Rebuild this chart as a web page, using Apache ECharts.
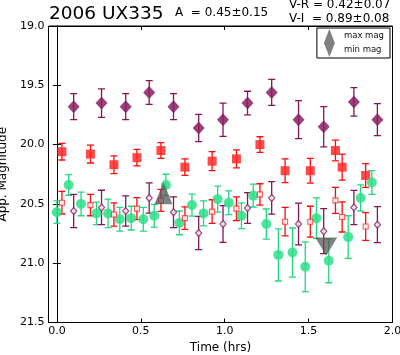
<!DOCTYPE html>
<html>
<head>
<meta charset="utf-8">
<script src="https://cdn.jsdelivr.net/npm/echarts@6/dist/echarts.min.js"></script>
<style>html,body{margin:0;padding:0;background:#fff}#c{width:400px;height:355px}</style>
</head>
<body>
<div id="c"></div>
<script>
// ---- data ----
var xTicks = [0.0, 0.5, 1.0, 1.5, 2.0];
var yTicks = [19.0, 19.5, 20.0, 20.5, 21.0, 21.5];

var vTimes = [0.10, 0.266, 0.41, 0.55, 0.695, 0.845, 0.99, 1.136, 1.28, 1.44, 1.59, 1.77, 1.91];
var vMags  = [19.68, 19.65, 19.68, 19.56, 19.68, 19.86, 19.79, 19.65, 19.56, 19.79, 19.85, 19.64, 19.79];
var vErrs  = [0.11, 0.12, 0.11, 0.10, 0.11, 0.115, 0.14, 0.10, 0.11, 0.16, 0.17, 0.12, 0.135];

var viMags = [20.56, 20.53, 20.56, 20.45, 20.57, 20.745, 20.67, 20.535, 20.45, 20.67, 20.73, 20.53, 20.675];
var viErrs = [0.14, 0.145, 0.128, 0.127, 0.13, 0.14, 0.155, 0.13, 0.137, 0.176, 0.19, 0.144, 0.152];

var rTimes = [0.03, 0.20, 0.34, 0.477, 0.62, 0.763, 0.925, 1.07, 1.21, 1.36, 1.51, 1.66, 1.70, 1.84];
var rMags  = [20.06, 20.08, 20.17, 20.11, 20.05, 20.19, 20.14, 20.12, 20.00, 20.22, 20.22, 20.05, 20.19, 20.26];
var rErrs  = [0.07, 0.075, 0.075, 0.07, 0.066, 0.07, 0.08, 0.076, 0.066, 0.10, 0.104, 0.087, 0.11, 0.10];

var rvMags = [20.49, 20.51, 20.59, 20.54, 20.47, 20.62, 20.565, 20.54, 20.42, 20.65, 20.65, 20.47, 20.61, 20.69];
var rvErrs = [0.095, 0.09, 0.098, 0.093, 0.093, 0.095, 0.10, 0.10, 0.09, 0.12, 0.13, 0.11, 0.127, 0.117];

var iTimes = [0.0, 0.07, 0.144, 0.236, 0.305, 0.375, 0.443, 0.515, 0.58, 0.65, 0.73, 0.805, 0.874, 0.958, 1.024, 1.10, 1.17, 1.248, 1.32, 1.404, 1.48, 1.547, 1.62, 1.736, 1.81, 1.877];
var iMags  = [20.57, 20.34, 20.50, 20.58, 20.58, 20.63, 20.62, 20.63, 20.60, 20.34, 20.66, 20.51, 20.58, 20.46, 20.49, 20.60, 20.43, 20.67, 20.93, 20.91, 21.03, 20.62, 20.98, 20.78, 20.45, 20.32];
var iErrs  = [0.095, 0.087, 0.10, 0.095, 0.12, 0.10, 0.10, 0.10, 0.096, 0.09, 0.10, 0.093, 0.106, 0.11, 0.10, 0.108, 0.096, 0.127, 0.22, 0.207, 0.21, 0.17, 0.185, 0.18, 0.11, 0.10];

var maxMagPoint = [0.635, 20.41];
var minMagPoint = [1.605, 20.86];

var titleText = '2006 UX335';
var ampText = 'A  = 0.45\u00b10.15';
var vrText = 'V-R = 0.42\u00b10.07';
var viText = 'V-I  = 0.89\u00b10.08';

// ---- helpers ----
var FONT = 'DejaVu Sans';
function pts(t, m) { return t.map(function (x, i) { return [x, m[i]]; }); }
function ebData(t, m, e) { return t.map(function (x, i) { return [x, m[i], e[i]]; }); }
function errSeries(data, color) {
  return {
    type: 'custom', data: data, silent: true, clip: true,
    encode: { x: 0, y: 1 },
    renderItem: function (params, api) {
      var x = api.value(0), y = api.value(1), e = api.value(2);
      var a = api.coord([x, y - e]), b = api.coord([x, y + e]);
      var cw = 3.5, st = { stroke: color, lineWidth: 1.3 };
      return { type: 'group', children: [
        { type: 'line', shape: { x1: a[0], y1: a[1], x2: b[0], y2: b[1] }, style: st },
        { type: 'line', shape: { x1: a[0] - cw, y1: a[1], x2: a[0] + cw, y2: a[1] }, style: st },
        { type: 'line', shape: { x1: b[0] - cw, y1: b[1], x2: b[0] + cw, y2: b[1] }, style: st }
      ]};
    }
  };
}
function scat(name, data, symbol, size, item) {
  return { type: 'scatter', name: name, data: data, symbol: symbol, symbolSize: size, itemStyle: item, silent: true };
}

var purple = '#8a1f62', purpleBar = '#821657';
var red = '#ff2a2a', redBar = '#ff0a0a';
var green = '#2ede88', greenBar = '#1fd880';

var axisLineStyle = { color: '#000', width: 1 };
var chart = echarts.init(document.getElementById('c'));
chart.setOption({
  animation: false,
  backgroundColor: '#fff',
  textStyle: { fontFamily: FONT },
  grid: { left: 48.5, right: 7.5, top: 26, bottom: 32.5, show: true, borderColor: '#000', borderWidth: 1, containLabel: false, outerBoundsMode: 'none' },
  xAxis: [{
    type: 'value', min: -0.05, max: 2.0, position: 'bottom',
    name: 'Time (hrs)', nameLocation: 'middle', nameGap: 19,
    nameTextStyle: { fontFamily: FONT, fontSize: 12, color: '#000' },
    axisLine: { show: true, lineStyle: axisLineStyle },
    axisTick: { show: true, inside: true, length: 4, customValues: xTicks, lineStyle: axisLineStyle },
    axisLabel: { customValues: xTicks, margin: 3, fontFamily: FONT, fontSize: 11, color: '#000', formatter: function (v) { return v.toFixed(1); } },
    splitLine: { show: false }
  }, {
    type: 'value', min: -0.05, max: 2.0, position: 'top',
    axisLine: { show: true, lineStyle: axisLineStyle },
    axisTick: { show: true, inside: true, length: 4, customValues: xTicks, lineStyle: axisLineStyle },
    axisLabel: { show: false }, splitLine: { show: false }
  }],
  yAxis: [{
    type: 'value', min: 19.0, max: 21.5, interval: 0.5, inverse: true, position: 'left',
    name: 'App. Magnitude', nameLocation: 'middle', nameGap: 33, nameRotate: 90,
    nameTextStyle: { fontFamily: FONT, fontSize: 12, color: '#000' },
    axisLine: { show: true, lineStyle: axisLineStyle },
    axisTick: { show: true, inside: true, length: 4, lineStyle: axisLineStyle },
    axisLabel: { margin: 4, fontFamily: FONT, fontSize: 11, color: '#000', formatter: function (v) { return v.toFixed(1); } },
    splitLine: { show: false }
  }, {
    type: 'value', min: 19.0, max: 21.5, interval: 0.5, inverse: true, position: 'right',
    axisLine: { show: true, lineStyle: axisLineStyle },
    axisTick: { show: true, inside: true, length: 4, lineStyle: axisLineStyle },
    axisLabel: { show: false }, splitLine: { show: false }
  }],
  legend: {
    orient: 'vertical', right: 10, top: 28,
    padding: [1, 6, 1, 7], itemGap: 0, itemWidth: 11, itemHeight: 14,
    borderColor: '#000', borderWidth: 1, backgroundColor: '#fff',
    textStyle: { fontFamily: FONT, fontSize: 8.5, color: '#111', padding: [0, 0, 0, 4] },
    data: [
      { name: 'max mag', icon: 'path://M5.5,0L11,14L0,14Z', itemStyle: { color: '#555', opacity: 0.75 } },
      { name: 'min mag', icon: 'path://M0,0L11,0L5.5,14Z', itemStyle: { color: '#555', opacity: 0.75 } }
    ]
  },
  graphic: [
    { type: 'text', style: { text: titleText, x: 49, y: 14.4, fontFamily: FONT, fontSize: 18.5, fill: '#000', verticalAlign: 'middle' } },
    { type: 'text', style: { text: ampText, x: 175, y: 13.3, fontFamily: FONT, fontSize: 12, fill: '#000', verticalAlign: 'middle' } },
    { type: 'text', style: { text: vrText, x: 289, y: 5.3, fontFamily: FONT, fontSize: 12, fill: '#000', verticalAlign: 'middle' } },
    { type: 'text', style: { text: viText, x: 289, y: 18.7, fontFamily: FONT, fontSize: 12, fill: '#000', verticalAlign: 'middle' } }
  ],
  series: [
    errSeries(ebData(vTimes, vMags, vErrs), purpleBar),
    scat('V', pts(vTimes, vMags), 'diamond', [12, 13], { color: purple, opacity: 0.85 }),
    errSeries(ebData(rTimes, rMags, rErrs), redBar),
    scat('R', pts(rTimes, rMags), 'rect', [9, 9], { color: red, opacity: 0.85 }),
    errSeries(ebData(iTimes, iMags, iErrs), greenBar),
    scat('I', pts(iTimes, iMags), 'circle', 10, { color: green, opacity: 0.85 }),
    errSeries(ebData(rTimes, rvMags, rvErrs), redBar),
    scat('R-shift', pts(rTimes, rvMags), 'rect', [5, 5], { color: '#fff', borderColor: red, borderWidth: 1.1 }),
    errSeries(ebData(vTimes, viMags, viErrs), purpleBar),
    scat('V-shift', pts(vTimes, viMags), 'diamond', [6, 7], { color: '#fff', borderColor: purple, borderWidth: 1.3 }),
    scat('max mag', [maxMagPoint], 'path://M5,0L10,10L0,10Z', [18, 22], { color: '#555', opacity: 0.75 }),
    scat('min mag', [minMagPoint], 'path://M0,0L10,0L5,10Z', [22, 18], { color: '#555', opacity: 0.75 })
  ]
});
</script>
</body>
</html>
